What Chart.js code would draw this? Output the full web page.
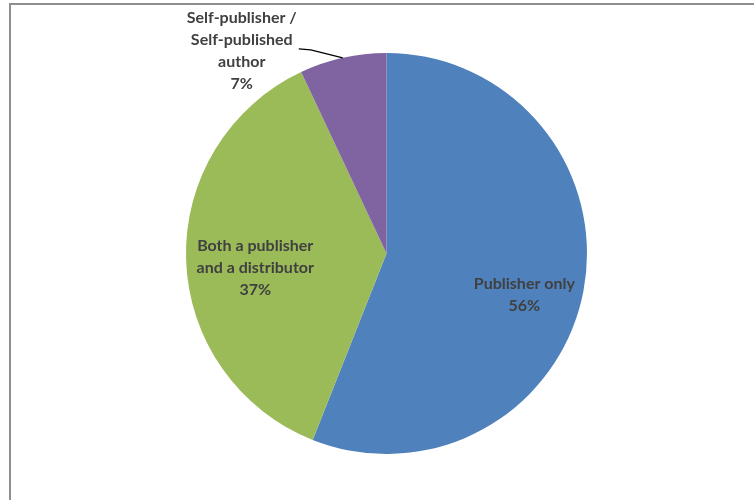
<!DOCTYPE html>
<html lang="en">

<head>
    <meta charset="UTF-8">
    <title>Pie</title>
    <style>
        body { margin: 0; background: #fff; }
        .frame { position: absolute; left: 9px; top: 3px; width: 760px; height: 510px;
                 border-left: 2px solid #8f8f8f; border-top: 2px solid #8f8f8f; }
        .wrap { position: absolute; left: 0; top: 0; width: 754px; height: 500px; }
    </style>
</head>

<body>
    <div class="frame"></div>
    <div class="wrap">
        <canvas id="myChart" width="754" height="500"></canvas>
    </div>
    <script src="https://cdn.jsdelivr.net/npm/chart.js"></script>
    <script>
        var categories = ['Publisher only', 'Both a publisher and a distributor', 'Self-publisher / Self-published author'];
        var labelLines = [['Publisher only'], ['Both a publisher', 'and a distributor'], ['Self-publisher /', 'Self-published', 'author']];
        var values = [56, 37, 7];
        var colors = ['#4f81bd', '#9bbb59', '#8064a2'];

        // data labels drawn by hand (no datalabels plugin offline)
        var pieLabels = {
            id: 'pieLabels',
            afterDatasetsDraw: function (chart, args, opts) {
                var ctx = chart.ctx;
                var meta = chart.getDatasetMeta(0);
                ctx.save();
                ctx.font = 'bold 16px Lato, "Open Sans", sans-serif';
                ctx.fillStyle = '#404040';
                ctx.textAlign = 'center';
                ctx.textBaseline = 'middle';
                meta.data.forEach(function (arc, i) {
                    var p = arc.getProps(['x', 'y', 'startAngle', 'endAngle', 'outerRadius']);
                    var mid = (p.startAngle + p.endAngle) / 2;
                    var lines = labelLines[i].concat([values[i] + '%']);
                    var pl = opts.place[i];
                    var cx, cy;
                    if (pl.outside) {
                        var ax = p.x + Math.cos(mid) * p.outerRadius;
                        var ay = p.y + Math.sin(mid) * p.outerRadius;
                        var ex = ax + pl.elbow[0], ey = ay + pl.elbow[1];
                        ctx.beginPath();
                        ctx.strokeStyle = '#000';
                        ctx.lineWidth = 1.3;
                        ctx.moveTo(ax, ay);
                        ctx.lineTo(ex, ey);
                        ctx.lineTo(ex - 12, ey - 1);
                        ctx.stroke();
                        cx = ex - 12 + pl.dx;
                        cy = ey + pl.dy;
                    } else {
                        cx = p.x + Math.cos(mid) * p.outerRadius * pl.r + pl.dx;
                        cy = p.y + Math.sin(mid) * p.outerRadius * pl.r + pl.dy;
                    }
                    var lh = 22;
                    var top = cy - (lines.length - 1) * lh / 2;
                    lines.forEach(function (t, j) {
                        ctx.fillText(t, cx, top + j * lh);
                    });
                });
                ctx.restore();
            }
        };

        const ctx = document.getElementById('myChart');
        var myChart = new Chart(ctx, {
            type: 'pie',
            data: {
                labels: categories,
                datasets: [{
                    data: values,
                    backgroundColor: colors,
                    borderWidth: 0
                }]
            },
            options: {
                responsive: false,
                animation: false,
                layout: { padding: { left: 185, right: 166, top: 53, bottom: 46 } },
                plugins: {
                    legend: { display: false },
                    tooltip: { enabled: false },
                    pieLabels: {
                        place: [
                            { r: 0.7, dx: 0, dy: 15 },
                            { r: 0.67, dx: 3, dy: 10 },
                            { outside: true, elbow: [-32, -8], dx: -57, dy: 1 }
                        ]
                    }
                }
            },
            plugins: [pieLabels]
        });
    </script>

</body>

</html>
